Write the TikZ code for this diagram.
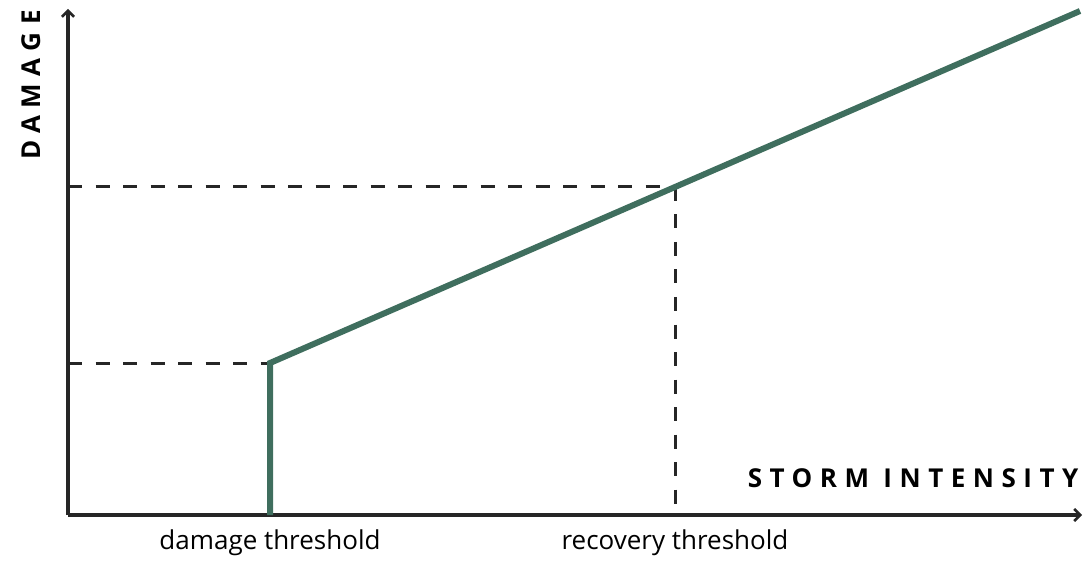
\documentclass[tikz,border=0pt]{standalone}
\usepackage{fontspec}
\setmainfont{Open Sans}
\usetikzlibrary{arrows.meta}
\definecolor{curvegreen}{HTML}{3F6E5E}
\tikzset{>/.tip={Straight Barb[length=6pt,width=12pt,line width=2.6pt]}}

\begin{document}
\begin{tikzpicture}[x=1pt,y=1pt,
  axis/.style={line width=3.2pt,->,color=black!85},
  guide/.style={line width=3pt,dash pattern=on 14pt off 13.5pt,color=black!85},
  curve/.style={line width=6pt,color=curvegreen},
  axislabel/.style={font=\fontsize{26}{30}\selectfont\bfseries\addfontfeature{LetterSpace=29}},
  ticklabel/.style={font=\fontsize{26}{30}\selectfont}]
\useasboundingbox (0,0) rectangle (1087,563);

\coordinate (O) at (68,48);
\coordinate (ytop) at (68,554);
\coordinate (xend) at (1082,48);
\coordinate (dmg-base) at (270,48);
\coordinate (dmg) at (270,200);
\coordinate (dmg-y) at (68,200);
\coordinate (rec) at (675,376);
\coordinate (rec-base) at (675,48);
\coordinate (rec-y) at (68,376);
\coordinate (top) at (1080,552);

% guides
\draw[guide] (dmg-y) -- (dmg);
\draw[guide] (rec-y) -- (rec);
\draw[guide] (rec) -- (rec-base);

% axes
\draw[axis] (O) -- (ytop);
\draw[axis] (O) -- (xend);

% damage curve
\draw[curve] (dmg-base) -- (dmg) -- (top);

\node[axislabel,rotate=90] (ylab) at (31,478) {DAMAGE};
\node[axislabel,anchor=east] (xlab) at (1082,85) {STORM INTENSITY};
\node[ticklabel] (dmglab) at (270,20) {damage threshold};
\node[ticklabel] (reclab) at (675,20) {recovery threshold};
\end{tikzpicture}
\end{document}
